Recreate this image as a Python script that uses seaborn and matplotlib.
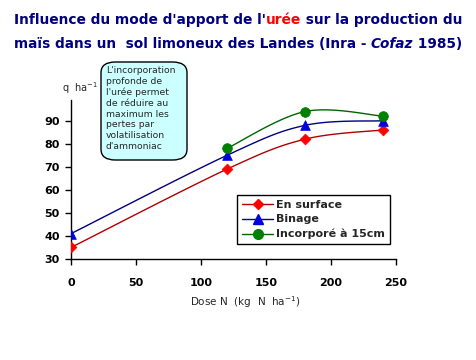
import numpy as np
import pandas as pd
import matplotlib
matplotlib.use("Agg")
import matplotlib.pyplot as plt
from matplotlib.lines import Line2D
from matplotlib.patches import FancyBboxPatch
import seaborn as sns

# values
dose = [0, 120, 180, 240]
surface = [35, 69, 82, 86]
binage = [41, 75, 88, 90]
dose_incorp = [120, 180, 240]
incorpore = [78, 94, 92]

series = [
    ("En surface", dose, surface, "#B00000", "#FF0000", "D", 5.5),
    ("Binage", dose, binage, "#000080", "#0000DD", "^", 7),
    ("Incorporé à 15cm", dose_incorp, incorpore, "#006400", "#008000", "o", 7),
]

sns.set_theme(style="white")
plt.rcParams["font.family"] = ["DejaVu Sans"]

W, H = 476, 360
fig = plt.figure(figsize=(W / 100, H / 100), dpi=100)
fig.patch.set_facecolor("white")
ax = fig.add_axes([71 / W, 1 - 259 / H, 325 / W, 159 / H])


def smooth(xs, ys, n=20):
    # catmull-rom curve through the points, like excel's smoothed lines
    xs = np.asarray(xs, float)
    ys = np.asarray(ys, float)
    px = np.r_[xs[0], xs, xs[-1]]
    py = np.r_[ys[0], ys, ys[-1]]
    outx, outy = [], []
    for i in range(1, len(px) - 2):
        t = np.linspace(0, 1, n, endpoint=False)
        for p, out in ((px, outx), (py, outy)):
            p0, p1, p2, p3 = p[i - 1], p[i], p[i + 1], p[i + 2]
            out.extend(0.5 * (2 * p1 + (-p0 + p2) * t
                              + (2 * p0 - 5 * p1 + 4 * p2 - p3) * t ** 2
                              + (-p0 + 3 * p1 - 3 * p2 + p3) * t ** 3))
    outx.append(xs[-1])
    outy.append(ys[-1])
    return pd.DataFrame({"x": outx, "y": outy})


handles = []
for name, xs, ys, lc, mc, mk, ms in series:
    curve = smooth(xs, ys)
    sns.lineplot(data=curve, x="x", y="y", ax=ax, color=lc, lw=1, sort=False)
    pts = pd.DataFrame({"x": xs, "y": ys})
    sns.scatterplot(data=pts, x="x", y="y", ax=ax, color=mc, marker=mk,
                    s=ms ** 2, edgecolor=mc, linewidth=0.5, zorder=5)
    handles.append(Line2D([], [], color=lc, lw=1, marker=mk, markersize=ms,
                          markerfacecolor=mc, markeredgecolor=mc, label=name))

ax.set_xlim(0, 250)
ax.set_ylim(30, 99)
ax.set_xticks([0, 50, 100, 150, 200, 250])
ax.set_yticks([30, 40, 50, 60, 70, 80, 90])
ax.set_xlabel("")
ax.set_ylabel("")
for s in ["top", "right"]:
    ax.spines[s].set_visible(False)
for s in ["left", "bottom"]:
    ax.spines[s].set_color("black")
    ax.spines[s].set_linewidth(1)
ax.tick_params(axis="both", direction="out", length=4, width=1, color="black",
               labelsize=8, labelcolor="black")
ax.tick_params(axis="x", pad=10, bottom=True)
ax.tick_params(axis="y", pad=4, left=True)
for lab in ax.get_xticklabels() + ax.get_yticklabels():
    lab.set_fontweight("bold")

leg = ax.legend(handles=handles, loc="upper left",
                bbox_to_anchor=(237 / W, 1 - 195 / H), bbox_transform=fig.transFigure,
                frameon=True, fancybox=False, framealpha=1, edgecolor="black",
                prop={"weight": "bold", "size": 8}, handlelength=2.8,
                borderpad=0.45, labelspacing=0.4, handletextpad=0.3,
                borderaxespad=0)
leg.get_frame().set_linewidth(1)

fig.text(245 / W, 1 - 302 / H, "Dose N  (kg  N  ha$^{-1}$)", ha="center",
         va="center", fontsize=7.5)
fig.text(62 / W, 1 - 88 / H, "q  ha$^{-1}$", ha="left", va="center", fontsize=7)

# note box
box = FancyBboxPatch((101 / W, 1 - 160 / H), 86 / W, 98 / H,
                     boxstyle="round,pad=0,rounding_size=0.03",
                     transform=fig.transFigure, facecolor="#CCFFFF",
                     edgecolor="black", linewidth=1)
fig.patches.append(box)
note = ("L'incorporation\nprofonde de\nl'urée permet\nde réduire au\n"
        "maximum les\npertes par\nvolatilisation\nd'ammoniac")
fig.text(106 / W, 1 - 66 / H, note, ha="left", va="top", fontsize=6.7,
         linespacing=1.25)

# two-colour title, each line centred and fitted to the reference width
title_lines = [
    (20, [("Influence du mode d'apport de l'", "#000080"), ("urée", "#FF0000"),
          (" sur la production du", "#000080")]),
    (44, [("maïs dans un  sol limoneux des Landes (Inra - ", "#000080"),
          ("Cofaz", "#000080"), (" 1985)", "#000080")]),
]
target = 448
fig.canvas.draw()
r = fig.canvas.get_renderer()
for ypix, parts in title_lines:
    texts = []
    for s, c in parts:
        style = "italic" if s == "Cofaz" else "normal"
        texts.append(fig.text(0, 1 - ypix / H, s, color=c, fontsize=10,
                              fontweight="heavy", style=style, va="center",
                              ha="left"))
    total = sum(t.get_window_extent(r).width for t in texts)
    size = 10 * target / total
    for t in texts:
        t.set_fontsize(size)
    widths = [t.get_window_extent(r).width for t in texts]
    x = (W - sum(widths)) / 2
    for t, w in zip(texts, widths):
        t.set_x(x / W)
        x += w

fig.savefig("out.png", dpi=100)
